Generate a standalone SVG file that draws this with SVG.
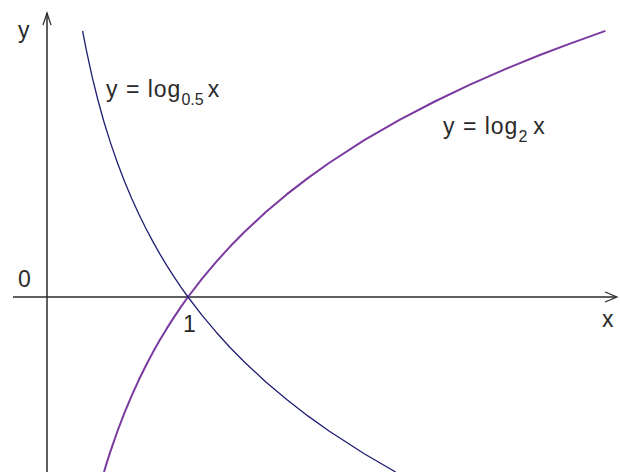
<svg xmlns="http://www.w3.org/2000/svg" width="620" height="472" viewBox="0 0 620 472">
<style>
.axis{stroke:#2a2a2a;stroke-width:1.5;fill:none}
.head{stroke:#2a2a2a;stroke-width:1.2;fill:none}
.lbl{font-family:"Liberation Sans",Arial,sans-serif;font-size:23px;letter-spacing:1px;fill:#2a2a2a}
.sub{font-size:16px;letter-spacing:0}
.log2{stroke:#7a3aa0;stroke-width:2;fill:none;stroke-linejoin:round}
.loghalf{stroke:#1e1e72;stroke-width:1.3;fill:none;stroke-linejoin:round}
</style>
<rect width="620" height="472" fill="#ffffff"/>
<g id="axes">
<g id="x-axis">
<line class="axis" x1="13" y1="297" x2="616" y2="297"/>
<polyline class="head" points="605,292 617,297 605,302"/>
</g>
<g id="y-axis">
<line class="axis" x1="47" y1="472" x2="47" y2="13"/>
<polyline class="head" points="43,25 47,13 51,25"/>
</g>
</g>
<g id="connectors">
<polyline id="curve-log2" class="log2" points="104,472 106.9,462.4 110.45,451.4 117.5,431 124.55,412.6 131.6,395.8 138.65,380.3 145.7,366 152.75,352.6 159.8,340.1 166.85,328.4 173.9,317.4 180.95,306.9 188,297 202.1,278.6 216.2,261.8 230.3,246.3 244.4,232 265.55,212.3 286.7,194.4 307.85,178.1 329,163 364.25,140.2 399.5,119.9 434.75,101.5 470,84.6 505.25,69.1 540.5,54.8 568.7,44.1 605.4,30.9"/>
<polyline id="curve-log05" class="loghalf" points="82.6,31 86.5,50.9 92.1,76.7 97.8,99.5 104,122 110.45,142.6 117.5,163 124.55,181.4 131.6,198.2 138.65,213.7 145.7,228 152.75,241.4 159.8,253.9 166.85,265.6 173.9,276.6 180.95,287.1 188,297 202.1,315.4 216.2,332.2 230.3,347.7 244.4,362 265.55,381.7 286.7,399.6 307.85,415.9 329,431 364.25,453.8 395.6,472"/>
</g>
<g id="label-y"><text class="lbl" x="18" y="38">y</text></g>
<g id="label-x"><text class="lbl" x="602" y="327">x</text></g>
<g id="label-0"><text class="lbl" x="18" y="287">0</text></g>
<g id="label-1"><text class="lbl" x="183" y="332">1</text></g>
<g id="label-log05"><text class="lbl" x="106" y="97">y = log<tspan class="sub" dy="8">0.5</tspan><tspan dy="-8" dx="4">x</tspan></text></g>
<g id="label-log2"><text class="lbl" x="443" y="134">y = log<tspan class="sub" dy="8">2</tspan><tspan dy="-8" dx="6">x</tspan></text></g>
</svg>
